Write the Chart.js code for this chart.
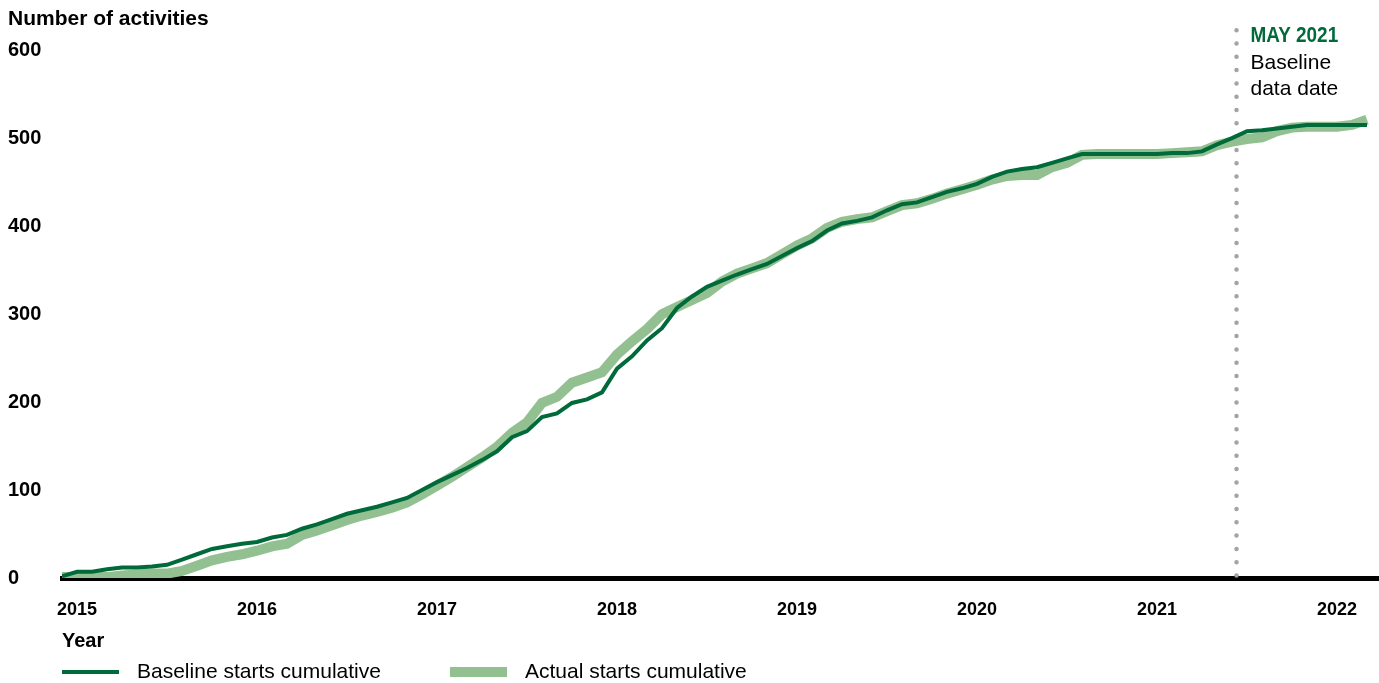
<!DOCTYPE html>
<html>
<head>
<meta charset="utf-8">
<title>Number of activities</title>
<script src="https://cdn.jsdelivr.net/npm/chart.js@4.4.1/dist/chart.umd.min.js"></script>
<style>
  html, body { margin: 0; padding: 0; background: #fff; }
  #wrap { position: relative; width: 1379px; height: 683px; }
</style>
</head>
<body>
<div id="wrap"><canvas id="activityChart"></canvas></div>
<script>
// Monthly points, Dec 2014 - Mar 2022
const months = [
    'Dec 2014',
    'Jan 2015', 'Feb 2015', 'Mar 2015', 'Apr 2015', 'May 2015', 'Jun 2015', 'Jul 2015', 'Aug 2015', 'Sep 2015', 'Oct 2015', 'Nov 2015', 'Dec 2015',
    'Jan 2016', 'Feb 2016', 'Mar 2016', 'Apr 2016', 'May 2016', 'Jun 2016', 'Jul 2016', 'Aug 2016', 'Sep 2016', 'Oct 2016', 'Nov 2016', 'Dec 2016',
    'Jan 2017', 'Feb 2017', 'Mar 2017', 'Apr 2017', 'May 2017', 'Jun 2017', 'Jul 2017', 'Aug 2017', 'Sep 2017', 'Oct 2017', 'Nov 2017', 'Dec 2017',
    'Jan 2018', 'Feb 2018', 'Mar 2018', 'Apr 2018', 'May 2018', 'Jun 2018', 'Jul 2018', 'Aug 2018', 'Sep 2018', 'Oct 2018', 'Nov 2018', 'Dec 2018',
    'Jan 2019', 'Feb 2019', 'Mar 2019', 'Apr 2019', 'May 2019', 'Jun 2019', 'Jul 2019', 'Aug 2019', 'Sep 2019', 'Oct 2019', 'Nov 2019', 'Dec 2019',
    'Jan 2020', 'Feb 2020', 'Mar 2020', 'Apr 2020', 'May 2020', 'Jun 2020', 'Jul 2020', 'Aug 2020', 'Sep 2020', 'Oct 2020', 'Nov 2020', 'Dec 2020',
    'Jan 2021', 'Feb 2021', 'Mar 2021', 'Apr 2021', 'May 2021', 'Jun 2021', 'Jul 2021', 'Aug 2021', 'Sep 2021', 'Oct 2021', 'Nov 2021', 'Dec 2021',
    'Jan 2022', 'Feb 2022', 'Mar 2022'
];
const yearLabels = ['2015', '2016', '2017', '2018', '2019', '2020', '2021', '2022'];

const baselineStarts = [
    2, 7, 7, 10, 12, 12, 13, 15,
    21, 27, 33, 36, 39, 41, 46, 49,
    56, 61, 67, 73, 77, 81, 86, 91,
    100, 109, 117, 125, 134, 144, 160, 167,
    183, 187, 199, 203, 211, 238, 252, 270,
    284, 307, 320, 331, 338, 345, 351, 357,
    366, 375, 383, 395, 403, 406, 410, 418,
    425, 427, 433, 439, 443, 448, 456, 462,
    465, 467, 472, 477, 482, 482, 482, 482,
    482, 482, 483, 483, 485, 493, 500, 508,
    509, 511, 513, 515, 515, 515, 515, 515
];
const actualStarts = [
    1, 1, 1, 1, 3, 4, 5, 5,
    8, 14, 20, 24, 27, 31, 36, 39,
    49, 54, 60, 66, 71, 75, 80, 86,
    95, 105, 115, 126, 137, 149, 165, 177,
    199, 206, 222, 228, 234, 254, 269, 283,
    300, 308, 316, 324, 337, 346, 352, 358,
    368, 378, 386, 398, 405, 408, 410, 417,
    424, 426, 431, 437, 442, 447, 453, 457,
    458, 458, 467, 472, 481, 482, 482, 482,
    482, 482, 483, 484, 485, 492, 496, 499,
    501, 508, 512, 513, 513, 513, 515, 521
];

const markerTitle = 'MAY 2021';
const markerNote = ['Baseline', 'data date'];
const markerPos = 78.3; // where the dotted line sits on the month axis

const DARK_GREEN = '#006a3b';
const LIGHT_GREEN = '#93c091';
const FONT = "'Liberation Sans', Arial, sans-serif";

const yearTickIdx = yearLabels.map(y => months.indexOf('Jan ' + y));
const toPoints = arr => arr.map((v, i) => ({ x: i, y: v }));

Chart.defaults.font.family = FONT;
Chart.defaults.color = '#000';

// dotted "baseline data date" line, behind the series
const markerLine = {
    id: 'markerLine',
    beforeDatasetsDraw(chart) {
        const { ctx, chartArea, scales } = chart;
        const x = scales.x.getPixelForValue(markerPos);
        ctx.save();
        ctx.strokeStyle = '#a3a3a3';
        ctx.lineWidth = 4.5;
        ctx.lineCap = 'round';
        ctx.setLineDash([0, 13.3]);
        ctx.beginPath();
        ctx.moveTo(x, chartArea.top - 20);
        ctx.lineTo(x, chartArea.bottom);
        ctx.stroke();
        ctx.restore();
    },
    afterDraw(chart) {
        const { ctx, chartArea, scales } = chart;
        const x = scales.x.getPixelForValue(markerPos) + 14;
        ctx.save();
        ctx.textBaseline = 'middle';
        ctx.textAlign = 'left';
        // narrow bold heading (no condensed face installed, so squeeze it)
        ctx.save();
        ctx.translate(x, chartArea.top - 14);
        ctx.scale(0.86, 1);
        ctx.fillStyle = DARK_GREEN;
        ctx.font = 'bold 22px ' + FONT;
        ctx.fillText(markerTitle, 0, 0);
        ctx.restore();
        ctx.fillStyle = '#000';
        ctx.font = '21px ' + FONT;
        ctx.fillText(markerNote[0], x, chartArea.top + 13);
        ctx.fillText(markerNote[1], x, chartArea.top + 39);
        ctx.restore();
    }
};

// legend row at the bottom
const bottomLegend = {
    id: 'bottomLegend',
    afterDraw(chart) {
        const { ctx } = chart;
        const y = chart.height - 11;
        const starts = [62, 450];
        ctx.save();
        ctx.font = '21px ' + FONT;
        ctx.textBaseline = 'middle';
        ctx.fillStyle = '#000';
        chart.data.datasets.forEach((ds, i) => {
            const x0 = starts[i];
            ctx.strokeStyle = ds.borderColor;
            ctx.lineWidth = ds.borderWidth;
            ctx.lineCap = 'butt';
            ctx.beginPath();
            ctx.moveTo(x0, y);
            ctx.lineTo(x0 + 57, y);
            ctx.stroke();
            ctx.fillText(ds.label, x0 + 75, y);
        });
        ctx.restore();
    }
};

const ctx = document.getElementById('activityChart').getContext('2d');
new Chart(ctx, {
    type: 'line',
    data: {
        datasets: [
            {
                label: 'Baseline starts cumulative',
                data: toPoints(baselineStarts),
                borderColor: DARK_GREEN,
                borderWidth: 4,
                pointRadius: 0,
                tension: 0
            },
            {
                label: 'Actual starts cumulative',
                data: toPoints(actualStarts),
                borderColor: LIGHT_GREEN,
                borderWidth: 10,
                pointRadius: 0,
                tension: 0
            }
        ]
    },
    options: {
        responsive: true,
        maintainAspectRatio: false,
        animation: false,
        layout: { padding: { left: 8, right: 0, top: 7, bottom: 30 } },
        plugins: {
            legend: { display: false },
            tooltip: { enabled: false },
            title: {
                display: true,
                text: 'Number of activities',
                align: 'start',
                color: '#000',
                font: { size: 21, weight: 'bold' },
                padding: { top: 0, bottom: 18 }
            }
        },
        scales: {
            x: {
                type: 'linear',
                min: 0,
                max: 87.8,
                z: 1,
                afterFit: s => { s.height = 75; },
                afterBuildTicks: s => { s.ticks = yearTickIdx.map(v => ({ value: v })); },
                grid: { display: false, drawTicks: false },
                border: { display: true, color: '#000', width: 5 },
                ticks: {
                    autoSkip: false,
                    maxRotation: 0,
                    padding: 21,
                    color: '#000',
                    font: { size: 18, weight: 'bold' },
                    callback: (v, i) => yearLabels[i]
                },
                title: {
                    display: true,
                    text: 'Year',
                    align: 'start',
                    color: '#000',
                    font: { size: 20, weight: 'bold' },
                    padding: { top: 0, bottom: 0 }
                }
            },
            y: {
                min: 0,
                max: 600,
                afterFit: s => { s.width = 54; },
                grid: { display: false, drawTicks: false },
                border: { display: false },
                ticks: {
                    stepSize: 100,
                    crossAlign: 'far',
                    padding: 0,
                    color: '#000',
                    font: { size: 20, weight: 'bold' }
                }
            }
        }
    },
    plugins: [markerLine, bottomLegend]
});
</script>
</body>
</html>
